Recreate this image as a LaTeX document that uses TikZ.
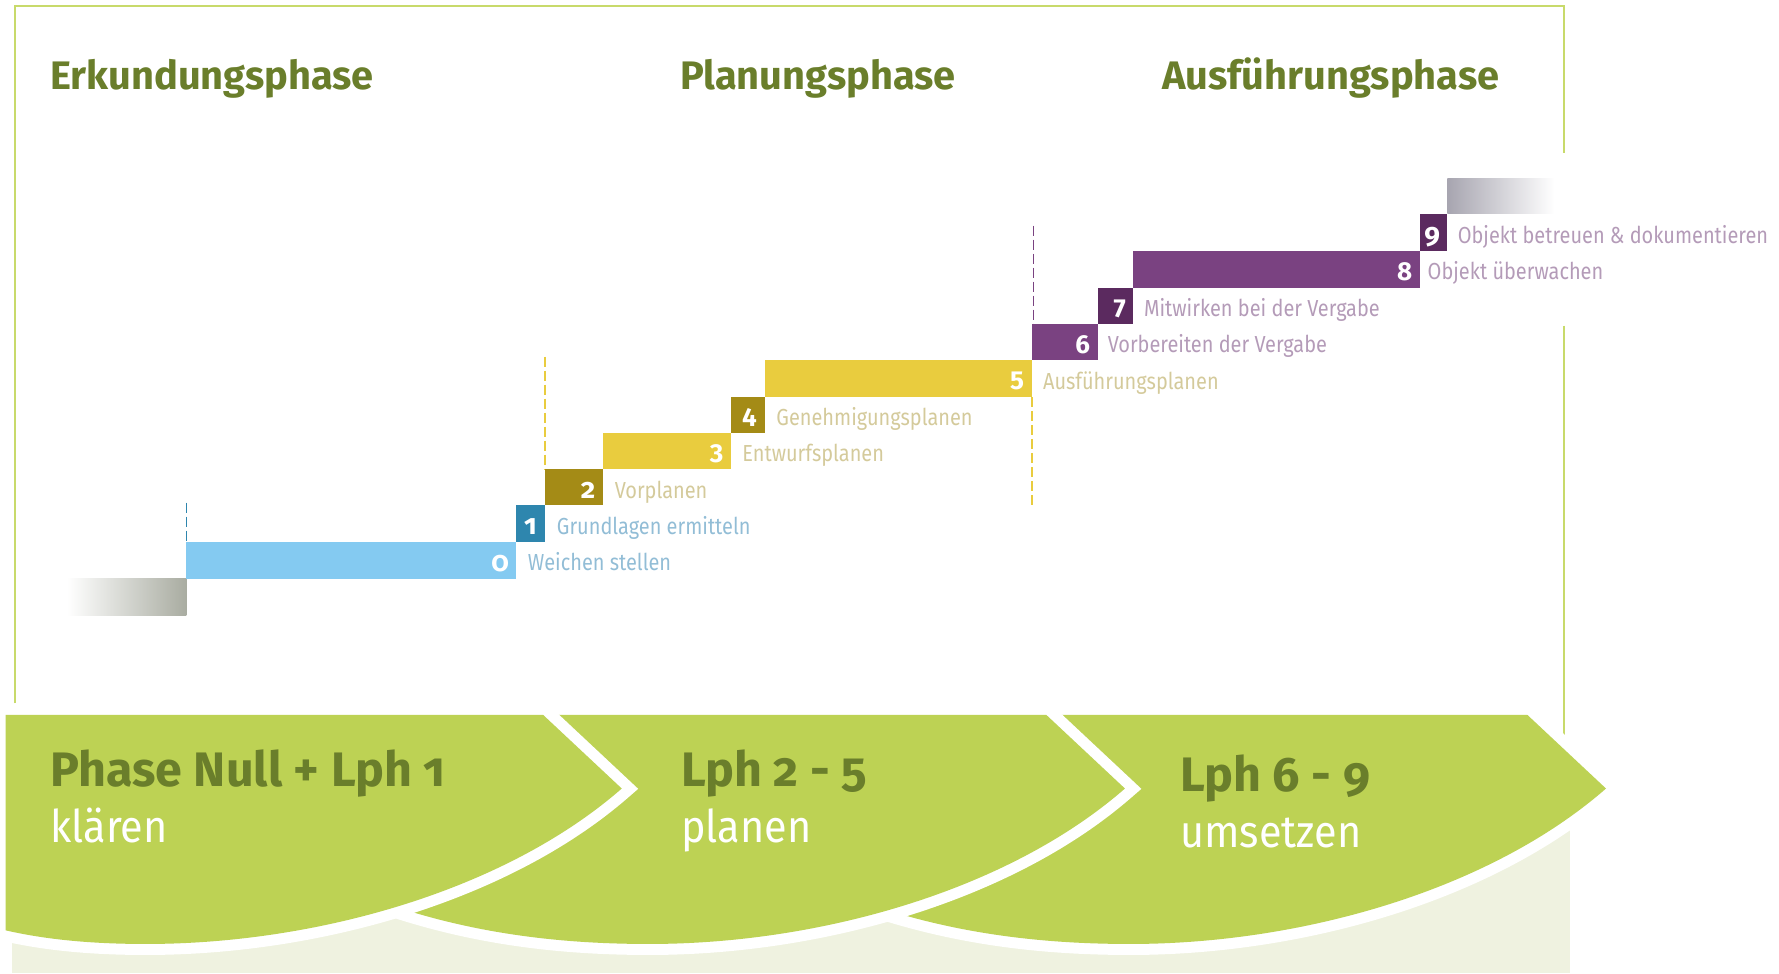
\documentclass[tikz,border=0pt]{standalone}
\usepackage{fontspec}
\setmainfont{Fira Sans}[Numbers=OldStyle]
\newfontfamily\liningfont{Fira Sans}[Numbers=Lining]
\newfontfamily\labelfont{Fira Sans}[Numbers=OldStyle, FakeStretch=0.86]
\newfontfamily\verbfont{Fira Sans}[FakeStretch=0.92]

\definecolor{framegreen}{HTML}{C8DA6B}
\definecolor{headgreen}{HTML}{6A7E2B}
\definecolor{arrowgreen}{HTML}{BDD254}
\definecolor{creambg}{HTML}{EFF2E0}
\definecolor{skyblue}{HTML}{84CAF1}
\definecolor{tealblue}{HTML}{2E86AE}
\definecolor{bluetext}{HTML}{92BDD6}
\definecolor{olive}{HTML}{A48B16}
\definecolor{sunyellow}{HTML}{E9CC3E}
\definecolor{tantext}{HTML}{D4CA9B}
\definecolor{violet}{HTML}{7A4281}
\definecolor{darkviolet}{HTML}{5B2A5F}
\definecolor{violettext}{HTML}{B49BB8}
\definecolor{startgray}{HTML}{A9ACA1}
\definecolor{endgray}{HTML}{A7A5B0}

\begin{document}
\begin{tikzpicture}[x=0.5673pt,y=-0.5673pt,
  frameline/.style={draw=framegreen,line width=1pt},
  phasehead/.style={anchor=base west,inner sep=0,text=headgreen,font=\bfseries\fontsize{19.9}{20}\selectfont},
  stepnum/.style={anchor=base east,inner sep=0,text=white,font=\liningfont\bfseries\fontsize{13}{13}\selectfont},
  oldnum/.style={stepnum,font=\bfseries\fontsize{14}{14}\selectfont},
  steplabel/.style={anchor=base west,inner sep=0,font=\labelfont\fontsize{11.6}{12}\selectfont},
  gate/.style={line width=0.8pt,dash pattern=on 5pt off 2pt},
  phasearrow/.style={fill=arrowgreen,preaction={draw=white,line width=11pt,line join=miter}},
  arrowtitle/.style={anchor=base west,inner sep=0,text=headgreen,font=\bfseries\fontsize{24.2}{24}\selectfont},
  arrowverb/.style={anchor=base west,inner sep=0,text=white,font=\verbfont\fontsize{22.5}{23}\selectfont}]
\useasboundingbox (0,0) rectangle (1568,858);

\fill[creambg] (11,700) rectangle (1384,858);
\draw[frameline] (13,620) -- (13,5) -- (1378.5,5) -- (1378.5,135);
\draw[frameline] (1378.5,287) -- (1378.5,660);

\node[phasehead] (hErk) at (44,78.5) {Erkundungsphase};
\node[phasehead] (hPlan) at (599,78.5) {Planungsphase};
\node[phasehead] (hAus) at (1024,78.5) {Ausführungsphase};

\shade[left color=white,right color=startgray] (59,510) rectangle (164.3,542.6);
\shade[left color=endgray,right color=white] (1275.6,156.9) rectangle (1370,188.6);

\draw[gate,tealblue] (164.3,443) -- (164.3,477.4);
\draw[gate,sunyellow] (480.3,314.4) -- (480.3,413.4);
\draw[gate,sunyellow] (909.4,349.9) -- (909.4,445.7);
\draw[gate,violet] (911,198.9) -- (911,285.6);

\fill[skyblue] (164.3,477.4) rectangle (455,510);
\fill[tealblue] (455,445.5) rectangle (480.3,477.4);
\fill[olive] (480.3,413.4) rectangle (531.4,445.5);
\fill[sunyellow] (531.4,381.6) rectangle (644.3,413.4);
\fill[olive] (644.3,349.9) rectangle (673.9,381.6);
\fill[sunyellow] (673.9,317.3) rectangle (909.6,349.9);
\fill[violet] (909.6,285.6) rectangle (967.7,317.3);
\fill[darkviolet] (967.7,253.5) rectangle (999,285.6);
\fill[violet] (999,220.9) rectangle (1251.6,253.5);
\fill[darkviolet] (1251.6,188.6) rectangle (1275.6,220.9);

\node[oldnum] (n0) at (449,503.7) {0};
\node[oldnum] (n1) at (473.5,471.5) {1};
\node[oldnum] (n2) at (525,439.5) {2};
\node[stepnum] (n3) at (638,407.5) {3};
\node[stepnum] (n4) at (667.5,375.8) {4};
\node[stepnum] (n5) at (903,343.6) {5};
\node[stepnum] (n6) at (961,311.5) {6};
\node[stepnum] (n7) at (992.5,279.6) {7};
\node[stepnum] (n8) at (1245,247.2) {8};
\node[oldnum] (n9) at (1269.5,214.8) {9};

\node[steplabel,text=bluetext] (l0) at (465,503) {Weichen stellen};
\node[steplabel,text=bluetext] (l1) at (490.5,471) {Grundlagen ermitteln};
\node[steplabel,text=tantext] (l2) at (541.5,439) {Vorplanen};
\node[steplabel,text=tantext] (l3) at (654,407) {Entwurfsplanen};
\node[steplabel,text=tantext] (l4) at (684,375.3) {Genehmigungsplanen};
\node[steplabel,text=tantext] (l5) at (919,343) {Ausführungsplanen};
\node[steplabel,text=violettext] (l6) at (976,311) {Vorbereiten der Vergabe};
\node[steplabel,text=violettext] (l7) at (1008,279) {Mitwirken bei der Vergabe};
\node[steplabel,text=violettext] (l8) at (1258,246.6) {Objekt überwachen};
\node[steplabel,text=violettext] (l9) at (1284.5,214.2) {Objekt betreuen \& dokumentieren};

\path[phasearrow] (824,630) -- (1346.1,630) -- (1415.5,695)
  .. controls (1312.5,785) and (1146.1,832) .. (996.1,832)
  .. controls (906.1,832) and (826.1,820) .. (746.1,790) -- cycle;
\path[phasearrow] (400,630) -- (922.1,630) -- (991.5,695)
  .. controls (888.5,785) and (722.1,832) .. (572.1,832)
  .. controls (482.1,832) and (402.1,820) .. (322.1,790) -- cycle;
\path[phasearrow] (5,630) -- (478.6,630) -- (548,695)
  .. controls (445,785) and (278.6,832) .. (128.6,832)
  .. controls (80,832) and (40,828) .. (5,820) -- cycle;

\node[arrowtitle] (a1) at (44,693.5) {Phase Null + Lph 1};
\node[arrowverb] (v1) at (44,742.5) {klären};
\node[arrowtitle] (a2) at (600,693.5) {Lph 2 - 5};
\node[arrowverb] (v2) at (600,742.5) {planen};
\node[arrowtitle] (a3) at (1040,697.5) {Lph 6 - 9};
\node[arrowverb] (v3) at (1040,747) {umsetzen};
\end{tikzpicture}
\end{document}
